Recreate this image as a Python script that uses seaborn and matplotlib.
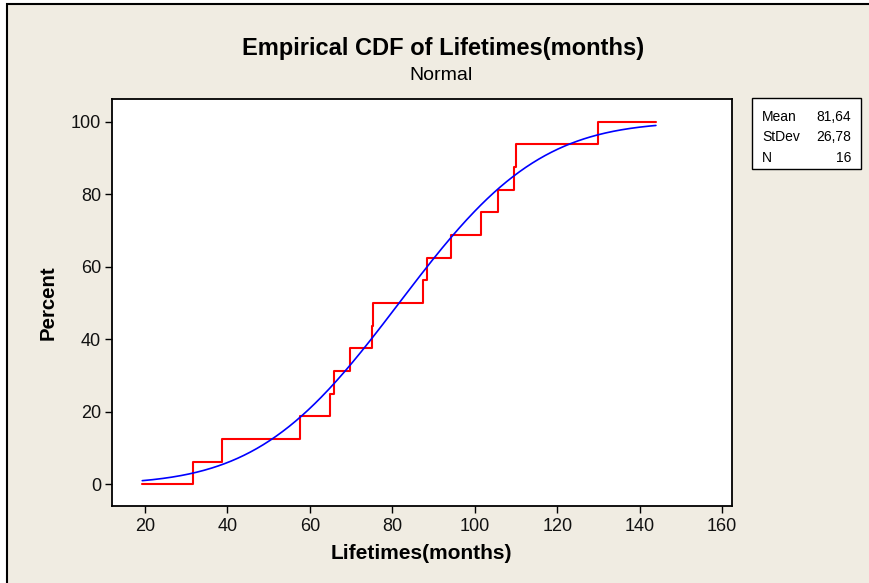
import matplotlib
matplotlib.use("Agg")
import matplotlib.pyplot as plt
import seaborn as sns
import numpy as np
from statistics import NormalDist
from matplotlib.patches import Rectangle

# ---- data ----
lifetimes = [31.7, 38.8, 57.6, 64.9, 65.8, 69.8, 75.0, 75.4, 87.5, 88.3,
             94.2, 101.6, 105.7, 109.4, 110.1, 130.0]
mean_val = 81.64
stdev_val = 26.78
n_val = 16
x_ticks = [20, 40, 60, 80, 100, 120, 140, 160]
y_ticks = [0, 20, 40, 60, 80, 100]
title_text = "Empirical CDF of Lifetimes(months)"
subtitle_text = "Normal"
xlabel_text = "Lifetimes(months)"
ylabel_text = "Percent"
stats_labels = ["Mean", "StDev", "N"]
stats_values = ["81,64", "26,78", "16"]

sns.set_theme(style="white")
plt.rcParams['font.family'] = ['Liberation Sans', 'DejaVu Sans']

W, H = 870, 583
fig = plt.figure(figsize=(8.7, 5.83), dpi=100, facecolor='white')


def fx(px):
    return px / W


def fy(py):
    return 1 - py / H


bg = Rectangle((fx(7), -0.1), 1.2, fy(4) + 0.1, transform=fig.transFigure,
               facecolor='#F0ECE2', edgecolor='black', linewidth=1.5, zorder=0)
fig.patches.append(bg)

ax = fig.add_axes([fx(112), fy(505.5), (732 - 112) / W, (505.5 - 99) / H])
ax.set_zorder(5)
ax.set_facecolor('white')

nd = NormalDist(mean_val, stdev_val)
lo, hi = nd.inv_cdf(0.01), nd.inv_cdf(0.99)
xs = sorted(lifetimes)
step_x = [lo] + xs + [hi]
step_y = [0.0] + [100.0 * (i + 1) / len(xs) for i in range(len(xs))] + [100.0]

curve_x = np.linspace(lo, hi, 400)
curve_y = np.array([nd.cdf(v) * 100 for v in curve_x])

sns.lineplot(x=step_x, y=step_y, ax=ax, color='#FF0000', linewidth=1.5,
             drawstyle='steps-post', estimator=None, sort=False)
sns.lineplot(x=curve_x, y=curve_y, ax=ax, color='#0000FF', linewidth=1.2,
             estimator=None, sort=False)

ax.set_xlim(12.0, 162.4)
ax.set_ylim(-5.85, 106.3)
ax.set_xticks(x_ticks)
ax.set_yticks(y_ticks)
ax.set_xlabel("")
ax.set_ylabel("")
ax.grid(False)
for s in ax.spines.values():
    s.set_color('black')
    s.set_linewidth(1.3)
    s.set_visible(True)
ax.tick_params(axis='both', which='major', bottom=True, left=True, top=False,
               right=False, direction='out', length=5, width=1,
               colors='black', labelsize=13)
ax.tick_params(axis='x', pad=4)
ax.tick_params(axis='y', pad=3)
for lab in ax.get_xticklabels() + ax.get_yticklabels():
    lab.set_color('#111111')

fig.text(fx(443), fy(55), title_text, ha='center', va='baseline',
         fontsize=17, fontweight='bold', color='black')
fig.text(fx(441), fy(80), subtitle_text, ha='center', va='baseline',
         fontsize=14, color='black')
fig.text(fx(421), fy(559), xlabel_text, ha='center', va='baseline',
         fontsize=15, fontweight='bold', color='black')
fig.text(fx(48), fy(302.5), ylabel_text, ha='center', va='center',
         rotation=90, fontsize=14.7, fontweight='bold', color='black')

box = Rectangle((fx(752), fy(169)), (861 - 752) / W, (169 - 98) / H,
                transform=fig.transFigure, facecolor='white',
                edgecolor='black', linewidth=1.0, zorder=2)
fig.patches.append(box)
for lab, val, yb in zip(stats_labels, stats_values, [120.7, 141.0, 161.7]):
    fig.text(fx(762), fy(yb), lab, ha='left', va='baseline', fontsize=10,
             color='black', zorder=3)
    fig.text(fx(851), fy(yb), val, ha='right', va='baseline', fontsize=10,
             color='black', zorder=3)

fig.savefig("out.png", dpi=100, facecolor=fig.get_facecolor())
